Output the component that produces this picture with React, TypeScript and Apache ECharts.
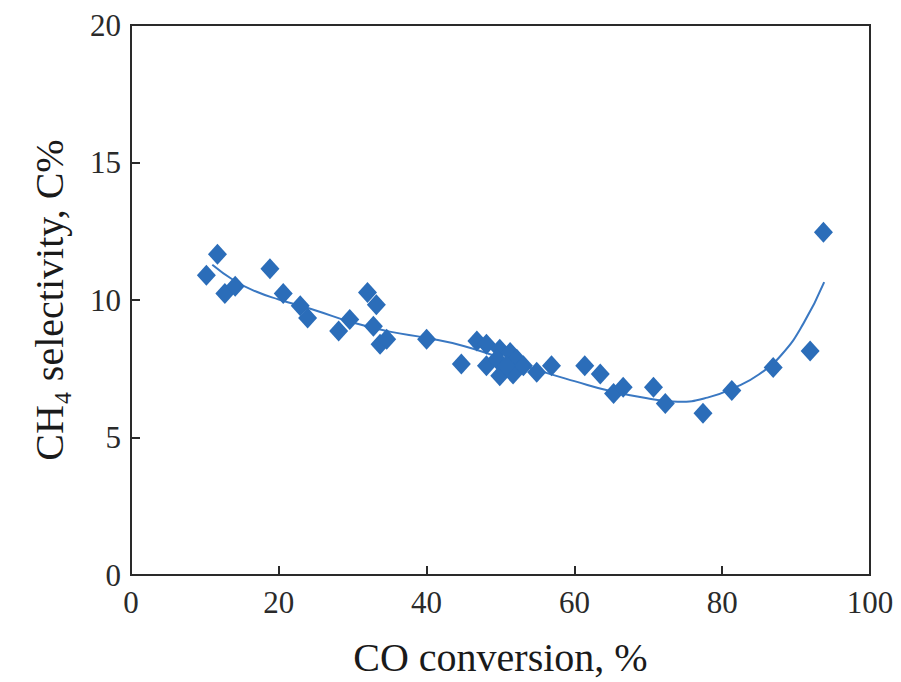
import React, { useEffect, useRef } from "react";
import * as echarts from "echarts";

const xTitle = "CO conversion, %";
const yTitle = "CH\u2084 selectivity, C%";

const measuredX: number[] = [10.2, 11.7, 12.7, 14.1, 18.8, 20.6, 22.9, 23.9, 28.1, 29.6, 32.0, 33.2, 32.8, 33.7, 34.6, 40.0, 44.7, 46.8, 48.1, 49.9, 51.3, 52.2, 48.1, 49.9, 51.7, 53.1, 49.5, 50.8, 54.9, 56.9, 61.4, 63.5, 65.3, 66.6, 70.7, 72.3, 77.4, 81.3, 86.9, 91.9, 93.7];
const measuredY: number[] = [10.9, 11.66, 10.24, 10.5, 11.14, 10.24, 9.79, 9.35, 8.87, 9.29, 10.27, 9.83, 9.05, 8.39, 8.57, 8.57, 7.67, 8.51, 8.39, 8.21, 8.09, 7.85, 7.61, 7.25, 7.31, 7.61, 7.85, 7.61, 7.37, 7.61, 7.61, 7.31, 6.6, 6.83, 6.83, 6.24, 5.88, 6.71, 7.55, 8.15, 12.46];

const fitX: number[] = [11, 14, 17, 20, 25, 30, 35, 40, 45, 50, 55, 60, 65, 70, 74, 78, 82, 85, 88, 91, 93.8];
const fitY: number[] = [11.28, 10.7, 10.3, 10.02, 9.62, 9.18, 8.85, 8.62, 8.33, 7.9, 7.45, 7.05, 6.68, 6.42, 6.3, 6.45, 6.85, 7.3, 8.0, 9.15, 10.65];

const xTicks = { min: 0, max: 100, interval: 20 };
const yTicks = { min: 0, max: 20, interval: 5 };

export default function App() {
  const ref = useRef<HTMLDivElement>(null);
  useEffect(() => {
    if (!ref.current) return;
    const chart = echarts.init(ref.current, null, { renderer: "svg" });
    const font = "'Liberation Serif', 'Times New Roman', serif";
    chart.setOption({
      animation: false,
      backgroundColor: "#ffffff",
      grid: {
        left: 131,
        top: 25,
        right: 31,
        bottom: 100,
        show: true,
        borderColor: "#2a2a2a",
        borderWidth: 2,
        backgroundColor: "transparent",
      },
      xAxis: {
        type: "value",
        min: xTicks.min,
        max: xTicks.max,
        interval: xTicks.interval,
        name: xTitle,
        nameLocation: "middle",
        nameGap: 62,
        nameTextStyle: { fontFamily: font, fontSize: 40, color: "#1a1a1a" },
        axisLine: { show: true, lineStyle: { color: "#2a2a2a", width: 2 } },
        axisTick: { show: true, inside: true, length: 9, lineStyle: { color: "#2a2a2a", width: 2 } },
        axisLabel: { fontFamily: font, fontSize: 31, color: "#2a2a2a", margin: 12 },
        splitLine: { show: false },
      },
      yAxis: {
        type: "value",
        min: yTicks.min,
        max: yTicks.max,
        interval: yTicks.interval,
        name: yTitle,
        nameLocation: "middle",
        nameGap: 62,
        nameTextStyle: { fontFamily: font, fontSize: 40, color: "#1a1a1a" },
        axisLine: { show: true, lineStyle: { color: "#2a2a2a", width: 2 } },
        axisTick: { show: true, inside: true, length: 9, lineStyle: { color: "#2a2a2a", width: 2 } },
        axisLabel: { fontFamily: font, fontSize: 31, color: "#2a2a2a", margin: 10 },
        splitLine: { show: false },
      },
      series: [
        {
          type: "line",
          data: fitX.map((x, i) => [x, fitY[i]]),
          smooth: 0.5,
          showSymbol: false,
          lineStyle: { color: "#3a78c2", width: 2 },
          z: 2,
        },
        {
          type: "scatter",
          data: measuredX.map((x, i) => [x, measuredY[i]]),
          symbol: "diamond",
          symbolSize: [19, 21],
          itemStyle: { color: "#2b6db9", opacity: 1 },
          z: 3,
        },
      ],
    });
    return () => chart.dispose();
  }, []);
  return <div ref={ref} style={{ width: 901, height: 682, position: "absolute", left: 0, top: 0 }} />;
}
